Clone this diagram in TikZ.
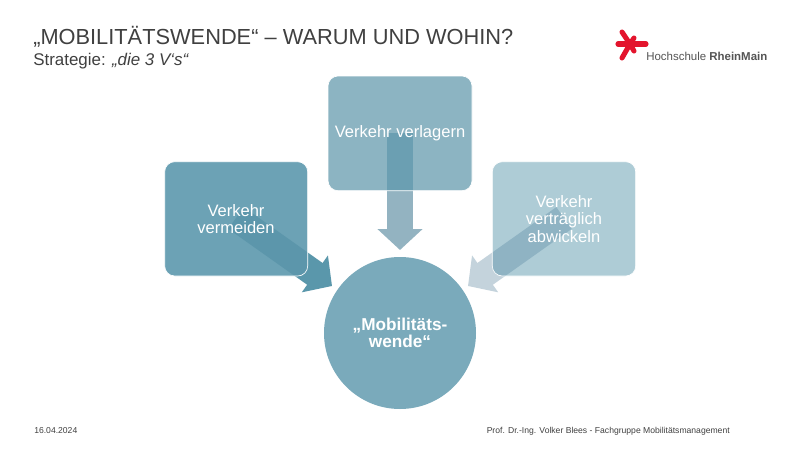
\documentclass[tikz,border=0pt]{standalone}
\usepackage{fontspec}
\setmainfont{Liberation Sans}
\usetikzlibrary{arrows.meta}
\definecolor{boxa}{HTML}{6CA2B5}
\definecolor{boxb}{HTML}{8CB4C2}
\definecolor{boxc}{HTML}{AECCD6}
\definecolor{hub}{HTML}{7AAABB}
\definecolor{arra}{HTML}{5A97AB}
\definecolor{arrb}{HTML}{93B3C1}
\definecolor{arrc}{HTML}{C4D3DC}
\definecolor{arrai}{HTML}{5C96AB}
\definecolor{arrbi}{HTML}{6B9FB2}
\definecolor{arrci}{HTML}{8FB3C3}
\definecolor{star}{HTML}{E3142D}
\definecolor{logotxt}{HTML}{555555}
\definecolor{headtxt}{HTML}{404040}
\tikzset{
  bigarrow/.style={line width=20pt,-{Triangle[length=15.75pt,width=33pt]}},
  cardbox/.style={rounded corners=7.5pt},
  cardline/.style={draw=white,line width=.5pt,rounded corners=7.5pt,fill=none},
  cardtext/.style={text=white,align=center,font=\fontsize{12.4pt}{13pt}\selectfont},
  footer/.style={font=\fontsize{6.45pt}{8pt}\selectfont,text=headtxt,inner sep=0pt},
  stararm/.style={draw=star,line width=3.8pt,line cap=round}
}
\begin{document}
\begin{tikzpicture}[x=.75pt,y=-.75pt]
\useasboundingbox (0,0) rectangle (800,450);
\fill[white] (0,0) rectangle (800,450);
% coordinates
\coordinate (sa) at (236,218); \coordinate (ta) at (332,286);
\coordinate (sb) at (400,133); \coordinate (tb) at (400,250);
\coordinate (sc) at (564,218); \coordinate (tc) at (468,286);
% arrows under cards
\draw[bigarrow,arra] (sa) -- (ta);
\draw[bigarrow,arrb] (sb) -- (tb);
\draw[bigarrow,arrc] (sc) -- (tc);
% cards
\fill[boxa,cardbox] (164.7,161.7) rectangle (307.7,276);
\fill[boxb,cardbox] (328,76) rectangle (472,190.7);
\fill[boxc,cardbox] (492.3,161.7) rectangle (635.7,276);
% arrow shafts seen through the cards
\begin{scope}
\clip[cardbox] (164.7,161.7) rectangle (307.7,276);
\draw[bigarrow,arrai] (sa) -- (ta);
\end{scope}
\begin{scope}
\clip[cardbox] (328,76) rectangle (472,190.7);
\draw[bigarrow,arrbi] (sb) -- (tb);
\end{scope}
\begin{scope}
\clip[cardbox] (492.3,161.7) rectangle (635.7,276);
\draw[bigarrow,arrci] (sc) -- (tc);
\end{scope}
\draw[cardline] (164.7,161.7) rectangle (307.7,276);
\draw[cardline] (328,76) rectangle (472,190.7);
\draw[cardline] (492.3,161.7) rectangle (635.7,276);
% labels
\node[cardtext] (la) at (236,219) {Verkehr\\vermeiden};
\node[cardtext] (lb) at (400,133.5) {Verkehr verlagern};
\node[cardtext] (lc) at (564,219) {Verkehr\\verträglich\\abwickeln};
\node[circle,fill=hub,minimum size=114pt,inner sep=0pt,text=white,align=center,
  font=\fontsize{12.9pt}{13pt}\selectfont\bfseries] (hubn) at (400,333) {„Mobilitäts-\\wende“};
% header
\node[anchor=base west,inner sep=0pt,font=\fontsize{16.35pt}{18pt}\selectfont,text=headtxt] (title) at (33,44) {„MOBILITÄTSWENDE“ – WARUM UND WOHIN?};
\node[anchor=base west,inner sep=0pt,font=\fontsize{12.7pt}{14pt}\selectfont,text=headtxt] (sub) at (33,65) {Strategie: \textit{„die 3 V‘s“}};
% logo
\draw[stararm] (618,44) -- (646,44);
\draw[stararm] (622,32) -- (630,44) -- (622,58);
\draw[stararm] (630,44) -- (634,38);
\draw[stararm] (630,44) -- (634,51);
\node[anchor=base west,inner sep=0pt,font=\fontsize{8.6pt}{10pt}\selectfont,text=logotxt] (logot) at (646,60) {Hochschule \textbf{RheinMain}};
% footer
\node[footer,anchor=base west] (date) at (34,433) {16.04.2024};
\node[footer,anchor=base east] (auth) at (730,433) {Prof. Dr.-Ing. Volker Blees - Fachgruppe Mobilitätsmanagement};
\end{tikzpicture}
\end{document}
